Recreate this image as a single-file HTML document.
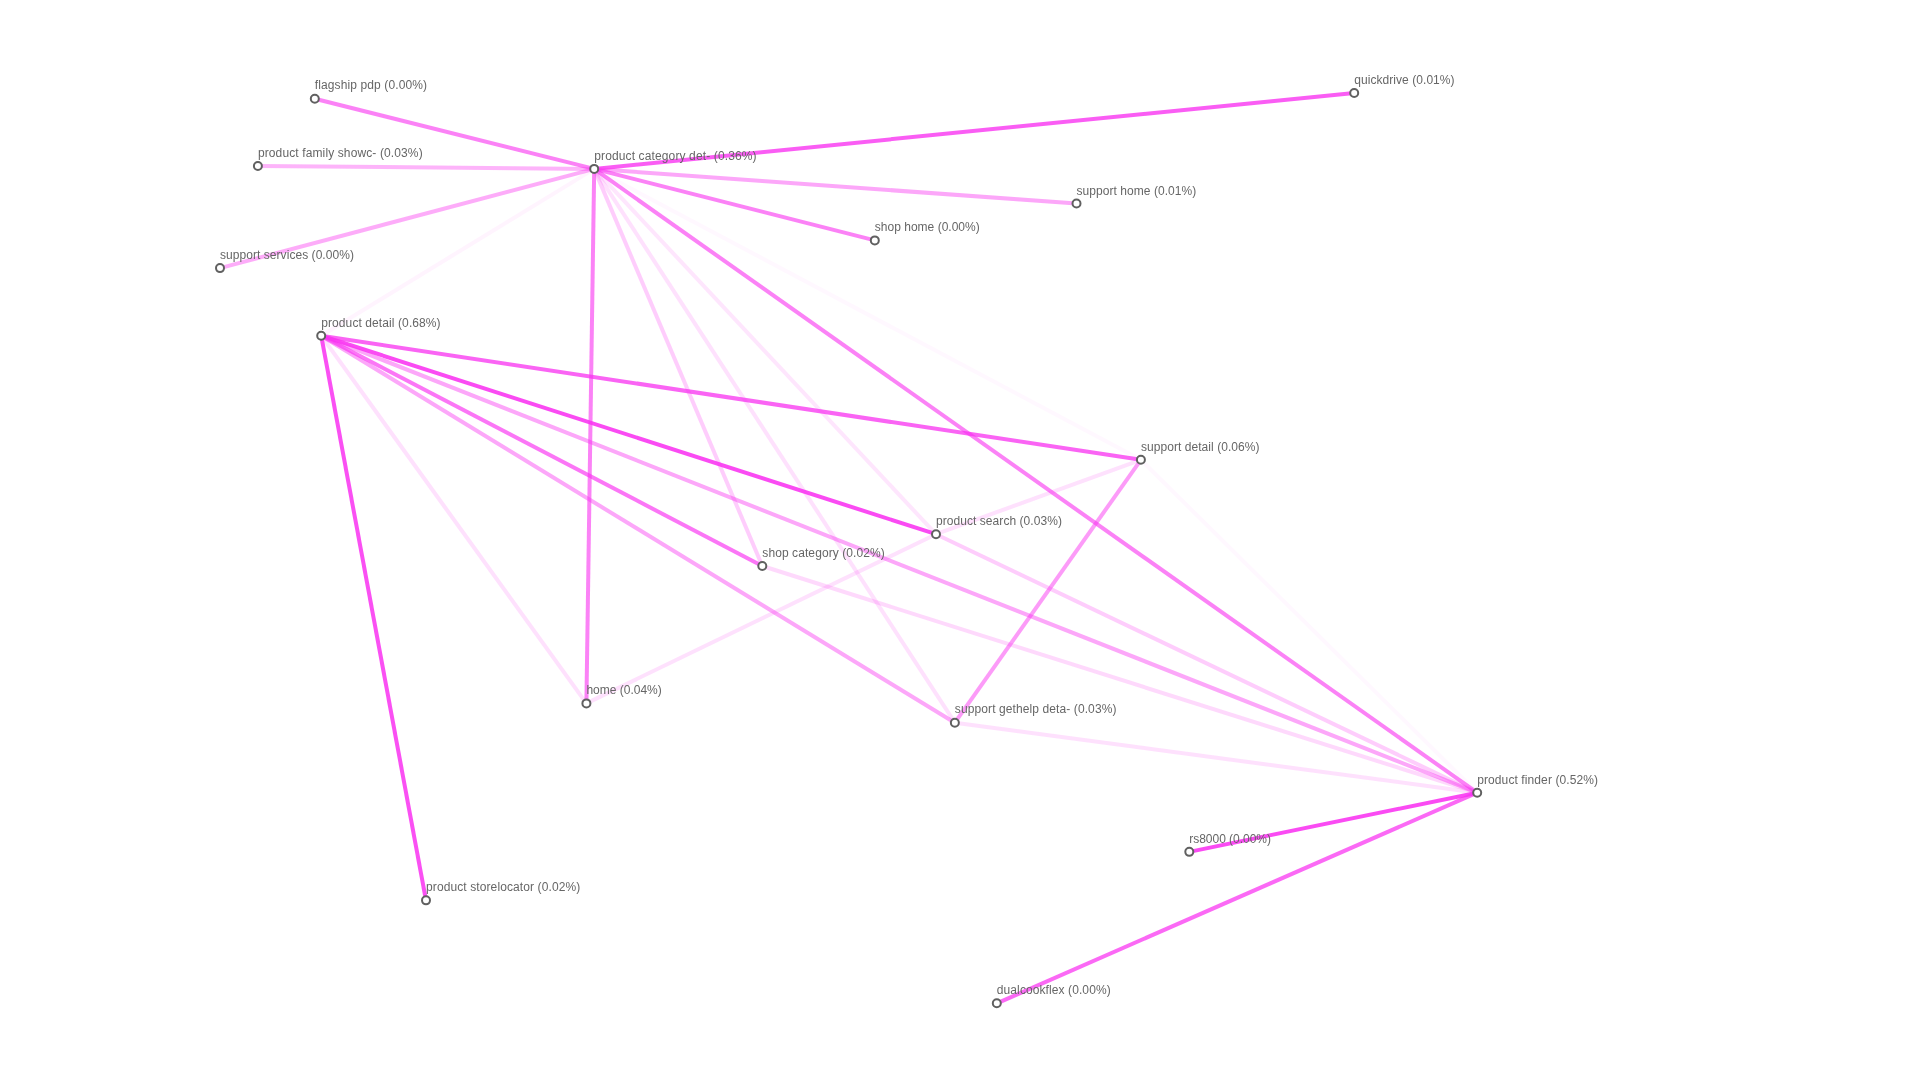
<!DOCTYPE html>
<html><head><meta charset="utf-8"><style>
html,body{margin:0;padding:0;background:#fff;width:1920px;height:1080px;overflow:hidden}
svg{display:block;position:absolute;left:0;top:0;will-change:transform}
.links line{stroke:rgb(249.3,50,241.1);stroke-width:4px}
.nodes circle{fill:#fff;stroke:#606060;stroke-width:2px}
.labels text{font-family:"Liberation Sans",sans-serif;font-size:12px;fill:#666}
</style></head><body>
<svg width="1920" height="1080" viewBox="0 0 1920 1080">
<g class="links">
<line x1="594.2" y1="168.9" x2="1140.9" y2="459.8" stroke-opacity="0.037"/>
<line x1="1140.9" y1="459.8" x2="1477.2" y2="792.7" stroke-opacity="0.037"/>
<line x1="594.2" y1="168.9" x2="321.2" y2="335.7" stroke-opacity="0.055"/>
<line x1="594.2" y1="168.9" x2="936.0" y2="534.2" stroke-opacity="0.122"/>
<line x1="594.2" y1="168.9" x2="954.85" y2="722.7" stroke-opacity="0.146"/>
<line x1="321.2" y1="335.7" x2="586.4" y2="703.4" stroke-opacity="0.146"/>
<line x1="1140.9" y1="459.8" x2="936.0" y2="534.2" stroke-opacity="0.146"/>
<line x1="586.4" y1="703.4" x2="936.0" y2="534.2" stroke-opacity="0.146"/>
<line x1="954.85" y1="722.7" x2="1477.2" y2="792.7" stroke-opacity="0.146"/>
<line x1="762.3" y1="566.0" x2="1477.2" y2="792.7" stroke-opacity="0.183"/>
<line x1="936.0" y1="534.2" x2="1477.2" y2="792.7" stroke-opacity="0.244"/>
<line x1="594.2" y1="168.9" x2="762.3" y2="566.0" stroke-opacity="0.244"/>
<line x1="594.2" y1="168.9" x2="257.9" y2="166.0" stroke-opacity="0.366"/>
<line x1="594.2" y1="168.9" x2="220.0" y2="268.1" stroke-opacity="0.402"/>
<line x1="594.2" y1="168.9" x2="1076.5" y2="203.5" stroke-opacity="0.427"/>
<line x1="321.2" y1="335.7" x2="1477.2" y2="792.7" stroke-opacity="0.427"/>
<line x1="321.2" y1="335.7" x2="954.85" y2="722.7" stroke-opacity="0.427"/>
<line x1="1140.9" y1="459.8" x2="954.85" y2="722.7" stroke-opacity="0.488"/>
<line x1="594.2" y1="168.9" x2="586.4" y2="703.4" stroke-opacity="0.610"/>
<line x1="594.2" y1="168.9" x2="314.8" y2="98.7" stroke-opacity="0.610"/>
<line x1="594.2" y1="168.9" x2="874.8" y2="240.4" stroke-opacity="0.610"/>
<line x1="594.2" y1="168.9" x2="1477.2" y2="792.7" stroke-opacity="0.610"/>
<line x1="321.2" y1="335.7" x2="762.3" y2="566.0" stroke-opacity="0.671"/>
<line x1="1477.2" y1="792.7" x2="996.8" y2="1003.3" stroke-opacity="0.732"/>
<line x1="321.2" y1="335.7" x2="1140.9" y2="459.8" stroke-opacity="0.756"/>
<line x1="594.2" y1="168.9" x2="1354.2" y2="93.0" stroke-opacity="0.793"/>
<line x1="321.2" y1="335.7" x2="426.0" y2="900.35" stroke-opacity="0.854"/>
<line x1="321.2" y1="335.7" x2="936.0" y2="534.2" stroke-opacity="0.878"/>
<line x1="1477.2" y1="792.7" x2="1189.3" y2="851.85" stroke-opacity="0.878"/>
</g>
<g class="nodes">
<circle cx="314.8" cy="98.7" r="4"/>
<circle cx="257.9" cy="166.0" r="4"/>
<circle cx="220.0" cy="268.1" r="4"/>
<circle cx="594.2" cy="168.9" r="4"/>
<circle cx="1354.2" cy="93.0" r="4"/>
<circle cx="1076.5" cy="203.5" r="4"/>
<circle cx="874.8" cy="240.4" r="4"/>
<circle cx="321.2" cy="335.7" r="4"/>
<circle cx="1140.9" cy="459.8" r="4"/>
<circle cx="936.0" cy="534.2" r="4"/>
<circle cx="762.3" cy="566.0" r="4"/>
<circle cx="586.4" cy="703.4" r="4"/>
<circle cx="954.85" cy="722.7" r="4"/>
<circle cx="1477.2" cy="792.7" r="4"/>
<circle cx="1189.3" cy="851.85" r="4"/>
<circle cx="426.0" cy="900.35" r="4"/>
<circle cx="996.8" cy="1003.3" r="4"/>
</g>
<g class="labels">
<text x="314.8" y="88.65" textLength="112.18" lengthAdjust="spacing">flagship pdp (0.00%)</text>
<text x="257.9" y="156.70" textLength="164.74" lengthAdjust="spacing">product family showc- (0.03%)</text>
<text x="220.0" y="258.55" textLength="133.93" lengthAdjust="spacing">support services (0.00%)</text>
<text x="594.2" y="159.85" textLength="162.35" lengthAdjust="spacing">product category det- (0.36%)</text>
<text x="1354.2" y="83.55" textLength="100.38" lengthAdjust="spacing">quickdrive (0.01%)</text>
<text x="1076.5" y="194.60" textLength="119.73" lengthAdjust="spacing">support home (0.01%)</text>
<text x="874.8" y="230.60" textLength="104.93" lengthAdjust="spacing">shop home (0.00%)</text>
<text x="321.2" y="326.70" textLength="119.41" lengthAdjust="spacing">product detail (0.68%)</text>
<text x="1140.9" y="450.70" textLength="118.61" lengthAdjust="spacing">support detail (0.06%)</text>
<text x="936.0" y="524.65" textLength="125.93" lengthAdjust="spacing">product search (0.03%)</text>
<text x="762.3" y="556.55" textLength="122.48" lengthAdjust="spacing">shop category (0.02%)</text>
<text x="586.4" y="693.55" textLength="75.38" lengthAdjust="spacing">home (0.04%)</text>
<text x="954.85" y="712.65" textLength="161.57" lengthAdjust="spacing">support gethelp deta- (0.03%)</text>
<text x="1477.2" y="783.70" textLength="120.83" lengthAdjust="spacing">product finder (0.52%)</text>
<text x="1189.3" y="842.50" textLength="81.65" lengthAdjust="spacing">rs8000 (0.00%)</text>
<text x="426.0" y="890.55" textLength="154.21" lengthAdjust="spacing">product storelocator (0.02%)</text>
<text x="996.8" y="993.65" textLength="113.86" lengthAdjust="spacing">dualcookflex (0.00%)</text>
</g>
</svg>
</body></html>
